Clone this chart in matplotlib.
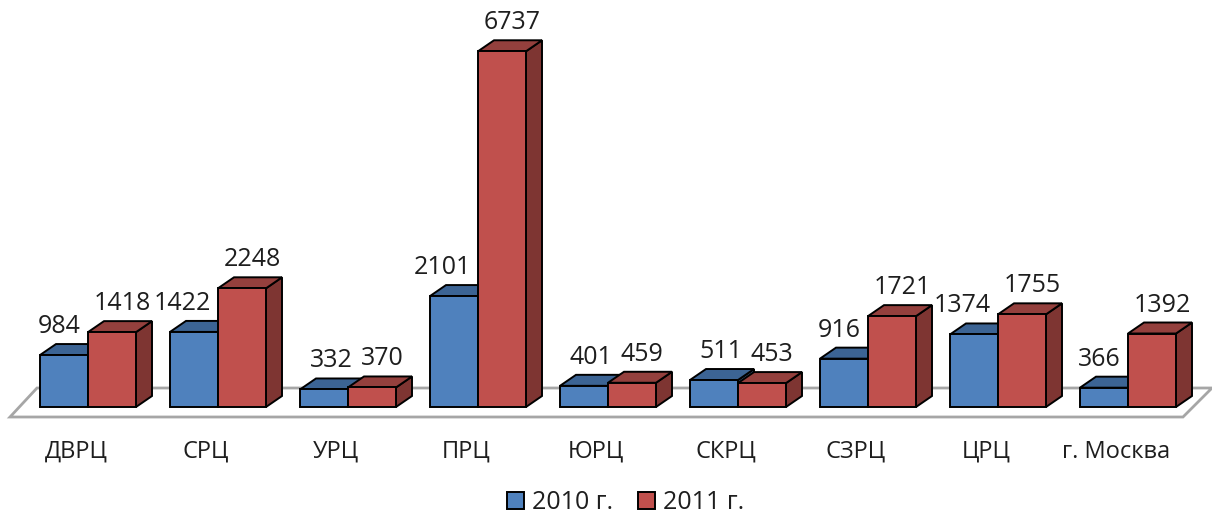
import matplotlib
matplotlib.use("Agg")
import matplotlib.pyplot as plt
from matplotlib.patches import Polygon, Patch

plt.rcParams['font.family'] = ['Open Sans', 'DejaVu Sans']

# data
regions = ["ДВРЦ", "СРЦ", "УРЦ", "ПРЦ", "ЮРЦ", "СКРЦ", "СЗРЦ", "ЦРЦ", "г. Москва"]
vals_2010 = [984, 1422, 332, 2101, 401, 511, 916, 1374, 366]
vals_2011 = [1418, 2248, 370, 6737, 459, 453, 1721, 1755, 1392]
series_names = ["2010 г.", "2011 г."]

# colours: front, top, side
blue = ("#4F81BD", "#3C6494", "#34577F")
red = ("#C0504D", "#94403D", "#7E3532")
txt_col = "#1E1E1E"

W, H = 1212, 523
fig = plt.figure(figsize=(W / 100, H / 100), dpi=100)
ax = fig.add_axes([0, 0, 1, 1])

# pixel scale helpers -> data units
px_x = 1 / 130.0          # one pixel in category units
px_y = 1 / 0.0528         # one pixel in value units
x0_px, y0_px = 88, 407    # where x=0, value=0 sits in the image
ax.set_xlim(-x0_px * px_x, (W - x0_px) * px_x)
ax.set_ylim(-(H - y0_px) * px_y, y0_px * px_y)
ax.axis("off")

bw = 48 * px_x
dx = 16 * px_x
dy = 11 * px_y
gap = 11 * px_y


def fx(p):
    return (p - x0_px) * px_x


def fy(p):
    return (y0_px - p) * px_y


# floor
floor = Polygon([(fx(10), fy(417)), (fx(1183), fy(417)), (fx(1212), fy(388)), (fx(37), fy(388))],
                closed=True, facecolor="white", edgecolor="#A6A6A6", lw=2, zorder=1)
ax.add_patch(floor)


def draw_bar(xl, v, cols, z):
    xr = xl + bw
    side = Polygon([(xr, 0), (xr + dx, dy), (xr + dx, v + dy), (xr, v)],
                   closed=True, facecolor=cols[2], edgecolor="black", lw=1.4, zorder=z)
    top = Polygon([(xl, v), (xr, v), (xr + dx, v + dy), (xl + dx, v + dy)],
                  closed=True, facecolor=cols[1], edgecolor="black", lw=1.4, zorder=z)
    ax.add_patch(side)
    ax.add_patch(top)
    ax.bar(xl, v, width=bw, align="edge", color=cols[0], edgecolor="black", lw=1.4, zorder=z + 0.5)


for i in range(len(regions)):
    v1, v2 = vals_2010[i], vals_2011[i]
    draw_bar(i - bw, v1, blue, 2 + i * 2)
    draw_bar(i, v2, red, 3 + i * 2)
    # 2011 label sits over the top face
    ax.text(i + bw / 2 + 10 * px_x, v2 + dy + gap, str(v2), ha="center", va="baseline",
            fontsize=18, color=txt_col, zorder=10)
    # 2010 label is pushed left when the red bar would hide it
    if v2 - v1 > gap:
        ax.text(i - 7 * px_x, v1 + dy + gap, str(v1), ha="right", va="baseline",
                fontsize=18, color=txt_col, zorder=10)
    else:
        ax.text(i - bw / 2 + 7 * px_x, v1 + dy + gap, str(v1), ha="center", va="baseline",
                fontsize=18, color=txt_col, zorder=10)
    ax.text(i - 12 * px_x, fy(452), regions[i], ha="center", va="center", fontsize=17, color=txt_col)

handles = [Patch(facecolor=blue[0], edgecolor="black", lw=1.4),
           Patch(facecolor=red[0], edgecolor="black", lw=1.4)]
fig.legend(handles, series_names, loc="lower center", bbox_to_anchor=(0.516, -0.028), ncol=2,
           frameon=False, fontsize=18, handlelength=0.7, handleheight=0.7,
           handletextpad=0.3, columnspacing=1.0, labelcolor=txt_col)

fig.savefig("out.png", dpi=100)
